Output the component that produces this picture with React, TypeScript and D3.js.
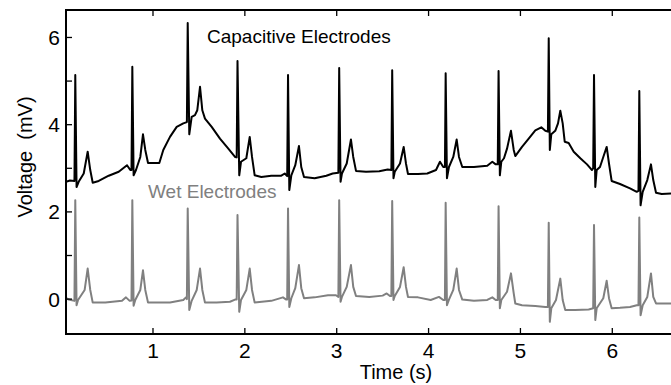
import { useEffect, useRef } from 'react'
import * as d3 from 'd3'

// [time (s), voltage (mV)]
const capacitiveTrace: [number, number][] = [
  [0.053, 2.69], [0.096, 2.72], [0.145, 2.71], [0.154, 5.14], [0.168, 2.57], [0.191, 2.69],
  [0.246, 2.88], [0.289, 3.38], [0.317, 2.96], [0.344, 2.67], [0.409, 2.71], [0.518, 2.83],
  [0.627, 2.92], [0.717, 3.07], [0.753, 2.96], [0.766, 2.96], [0.775, 5.33], [0.789, 2.84],
  [0.815, 2.96], [0.862, 3.26], [0.891, 3.78], [0.916, 3.42], [0.946, 3.12], [1.069, 3.12],
  [1.112, 3.42], [1.185, 3.72], [1.258, 3.95], [1.33, 4.03], [1.369, 4.06], [1.378, 6.33],
  [1.395, 3.78], [1.421, 4.18], [1.457, 4.22], [1.482, 4.33], [1.512, 4.87], [1.537, 4.33],
  [1.566, 4.14], [1.639, 3.95], [1.729, 3.68], [1.82, 3.45], [1.893, 3.26], [1.911, 3.25],
  [1.92, 5.46], [1.939, 2.84], [1.958, 3.15], [2.016, 3.23], [2.053, 3.72], [2.078, 3.26],
  [2.107, 2.84], [2.179, 2.8], [2.288, 2.83], [2.397, 2.83], [2.434, 2.88], [2.461, 2.82],
  [2.47, 5.14], [2.484, 2.5], [2.506, 2.84], [2.549, 3.07], [2.589, 3.51], [2.614, 3.03],
  [2.644, 2.8], [2.76, 2.77], [2.887, 2.83], [2.956, 2.88], [3.018, 2.9], [3.027, 5.3],
  [3.042, 2.69], [3.057, 2.88], [3.109, 3.11], [3.155, 3.66], [3.18, 3.26], [3.21, 2.94],
  [3.319, 2.92], [3.463, 2.93], [3.555, 2.97], [3.595, 2.96], [3.604, 5.25], [3.618, 2.77],
  [3.632, 2.92], [3.689, 3.11], [3.729, 3.49], [3.754, 3.11], [3.776, 2.87], [3.885, 2.87],
  [3.986, 2.88], [4.081, 2.96], [4.124, 3.15], [4.16, 3.03], [4.178, 3.03], [4.186, 5.18],
  [4.2, 2.77], [4.222, 3.03], [4.269, 3.26], [4.306, 3.66], [4.331, 3.26], [4.367, 3.03],
  [4.494, 3.03], [4.639, 3.06], [4.694, 3.15], [4.731, 3.09], [4.753, 3.09], [4.762, 5.23],
  [4.776, 2.84], [4.792, 3.15], [4.821, 3.23], [4.854, 3.45], [4.897, 3.86], [4.927, 3.42],
  [4.944, 3.28], [5.017, 3.49], [5.09, 3.68], [5.162, 3.87], [5.227, 3.94], [5.271, 3.86],
  [5.299, 3.84], [5.308, 5.98], [5.32, 3.42], [5.336, 3.78], [5.379, 3.86], [5.409, 4.03],
  [5.434, 4.32], [5.46, 4.03], [5.482, 3.61], [5.525, 3.58], [5.58, 3.38], [5.652, 3.23],
  [5.725, 3.09], [5.779, 2.96], [5.792, 3.0], [5.801, 5.14], [5.815, 2.57], [5.83, 2.96],
  [5.866, 3.03], [5.902, 3.26], [5.939, 3.49], [5.964, 3.11], [5.993, 2.71], [6.084, 2.64],
  [6.193, 2.54], [6.266, 2.46], [6.285, 2.48], [6.294, 4.77], [6.308, 2.15], [6.331, 2.46],
  [6.381, 2.73], [6.421, 3.09], [6.446, 2.73], [6.476, 2.44], [6.538, 2.41], [6.639, 2.42],
]

const wetTrace: [number, number][] = [
  [0.053, 0.03], [0.082, -0.01], [0.145, -0.04], [0.154, 2.27], [0.168, -0.14], [0.184, -0.02],
  [0.256, 0.21], [0.289, 0.7], [0.317, 0.21], [0.344, -0.08], [0.481, -0.08], [0.663, -0.04],
  [0.706, 0.04], [0.746, -0.04], [0.766, -0.03], [0.775, 2.27], [0.789, -0.15], [0.807, -0.02],
  [0.862, 0.21], [0.891, 0.66], [0.916, 0.21], [0.946, -0.08], [1.185, -0.08], [1.33, -0.02],
  [1.359, 0.04], [1.369, 0.0], [1.378, 2.08], [1.395, -0.25], [1.421, -0.04], [1.476, 0.21],
  [1.512, 0.7], [1.537, 0.21], [1.566, -0.08], [1.693, -0.08], [1.838, -0.06], [1.893, -0.01],
  [1.911, -0.01], [1.92, 1.93], [1.939, -0.29], [1.958, -0.02], [2.016, 0.21], [2.053, 0.7],
  [2.078, 0.21], [2.107, -0.08], [2.288, -0.04], [2.415, 0.04], [2.451, -0.01], [2.461, -0.01],
  [2.47, 2.08], [2.484, -0.18], [2.506, 0.02], [2.549, 0.25], [2.589, 0.78], [2.614, 0.25],
  [2.644, 0.02], [2.76, 0.04], [2.905, 0.09], [2.992, 0.09], [3.018, 0.05], [3.027, 2.27],
  [3.042, -0.06], [3.057, 0.05], [3.109, 0.28], [3.155, 0.78], [3.18, 0.28], [3.21, 0.07],
  [3.355, 0.05], [3.5, 0.08], [3.544, 0.13], [3.58, 0.07], [3.595, 0.07], [3.604, 2.25],
  [3.618, -0.02], [3.632, 0.07], [3.689, 0.28], [3.729, 0.73], [3.754, 0.28], [3.776, 0.05],
  [3.885, 0.04], [4.023, -0.02], [4.113, 0.05], [4.16, -0.02], [4.178, -0.02], [4.186, 2.21],
  [4.2, -0.14], [4.222, -0.01], [4.269, 0.21], [4.306, 0.7], [4.331, 0.21], [4.367, -0.01],
  [4.494, -0.04], [4.639, -0.02], [4.694, 0.04], [4.731, -0.02], [4.753, -0.02], [4.762, 2.13],
  [4.776, -0.21], [4.792, -0.02], [4.854, 0.17], [4.897, 0.59], [4.927, 0.13], [4.944, -0.1],
  [5.017, -0.14], [5.162, -0.16], [5.271, -0.18], [5.299, -0.18], [5.308, 1.75], [5.32, -0.52],
  [5.336, -0.21], [5.387, -0.02], [5.434, 0.47], [5.46, -0.02], [5.488, -0.25], [5.597, -0.25],
  [5.743, -0.24], [5.792, -0.21], [5.801, 1.7], [5.815, -0.48], [5.83, -0.21], [5.902, 0.02],
  [5.939, 0.42], [5.964, 0.02], [5.993, -0.21], [6.084, -0.2], [6.193, -0.18], [6.266, -0.14],
  [6.285, -0.14], [6.294, 1.87], [6.308, -0.37], [6.331, -0.14], [6.381, 0.05], [6.421, 0.59],
  [6.446, 0.05], [6.476, -0.1], [6.538, -0.1], [6.639, -0.1],
]

const xTicks = [1, 2, 3, 4, 5, 6]
const yTicks = [0, 1, 2, 3, 4, 5, 6]
const yTickLabels = ['0', '', '2', '', '4', '', '6']

const FONT = '"Liberation Sans", Arial, Helvetica, sans-serif'

export default function App() {
  const svgRef = useRef<SVGSVGElement>(null)
  const width = 671
  const height = 385

  useEffect(() => {
    if (!svgRef.current) return
    const svg = d3.select(svgRef.current)
    svg.selectAll('*').remove()

    const left = 66
    const right = 672
    const top = 10
    const bottom = 334

    const x = d3.scaleLinear().domain([0.053, 6.65]).range([left, right])
    const y = d3.scaleLinear().domain([-0.8, 6.63]).range([bottom, top])

    svg
      .append('defs')
      .append('clipPath')
      .attr('id', 'plot-clip')
      .append('rect')
      .attr('x', left)
      .attr('y', top)
      .attr('width', right - left)
      .attr('height', bottom - top)

    const line = d3
      .line<[number, number]>()
      .x((d) => x(d[0]))
      .y((d) => y(d[1]))

    const traces = svg.append('g').attr('clip-path', 'url(#plot-clip)')

    traces
      .append('path')
      .datum(wetTrace)
      .attr('d', line)
      .attr('fill', 'none')
      .attr('stroke', '#808080')
      .attr('stroke-width', 2)
      .attr('stroke-linejoin', 'round')

    traces
      .append('path')
      .datum(capacitiveTrace)
      .attr('d', line)
      .attr('fill', 'none')
      .attr('stroke', '#000')
      .attr('stroke-width', 2)
      .attr('stroke-linejoin', 'round')

    // frame (top, left, bottom)
    const frame = svg.append('g').attr('stroke', '#000').attr('stroke-width', 2)
    frame.append('line').attr('x1', left).attr('x2', right).attr('y1', top).attr('y2', top)
    frame.append('line').attr('x1', left).attr('x2', right).attr('y1', bottom).attr('y2', bottom)
    frame.append('line').attr('x1', left).attr('x2', left).attr('y1', top - 1).attr('y2', bottom + 1)

    const tickLen = 6

    // inward ticks
    xTicks.forEach((t) => {
      frame.append('line').attr('x1', x(t)).attr('x2', x(t)).attr('y1', bottom).attr('y2', bottom - tickLen).attr('stroke-width', 1.3)
      frame.append('line').attr('x1', x(t)).attr('x2', x(t)).attr('y1', top).attr('y2', top + tickLen).attr('stroke-width', 1.3)
    })
    yTicks.forEach((v) => {
      frame.append('line').attr('x1', left).attr('x2', left + tickLen).attr('y1', y(v)).attr('y2', y(v)).attr('stroke-width', 1.3)
    })

    svg
      .append('g')
      .selectAll('text')
      .data(xTicks)
      .enter()
      .append('text')
      .attr('x', (d) => x(d))
      .attr('y', 358)
      .attr('text-anchor', 'middle')
      .style('font-family', FONT)
      .style('font-size', '21px')
      .style('fill', '#000')
      .text((d) => String(d))

    svg
      .append('g')
      .selectAll('text')
      .data(yTicks)
      .enter()
      .append('text')
      .attr('x', left - 6)
      .attr('y', (d) => y(d) + 7.5)
      .attr('text-anchor', 'end')
      .style('font-family', FONT)
      .style('font-size', '21px')
      .style('fill', '#000')
      .text((_, i) => yTickLabels[i])

    svg
      .append('text')
      .attr('x', 396)
      .attr('y', 379)
      .attr('text-anchor', 'middle')
      .style('font-family', FONT)
      .style('font-size', '20px')
      .text('Time (s)')

    svg
      .append('text')
      .attr('transform', 'translate(32,157) rotate(-90)')
      .attr('text-anchor', 'middle')
      .style('font-family', FONT)
      .style('font-size', '20px')
      .style('white-space', 'pre')
      .text('Voltage  (mV)')

    svg
      .append('text')
      .attr('x', 207)
      .attr('y', 43)
      .style('font-family', FONT)
      .style('font-size', '19px')
      .style('fill', '#000')
      .text('Capacitive Electrodes')

    svg
      .append('text')
      .attr('x', 148)
      .attr('y', 198)
      .style('font-family', FONT)
      .style('font-size', '19px')
      .style('fill', '#808080')
      .text('Wet Electrodes')
  }, [])

  return (
    <svg
      ref={svgRef}
      width={width}
      height={height}
      style={{ position: 'absolute', left: 0, top: 0, background: '#fff' }}
    />
  )
}
